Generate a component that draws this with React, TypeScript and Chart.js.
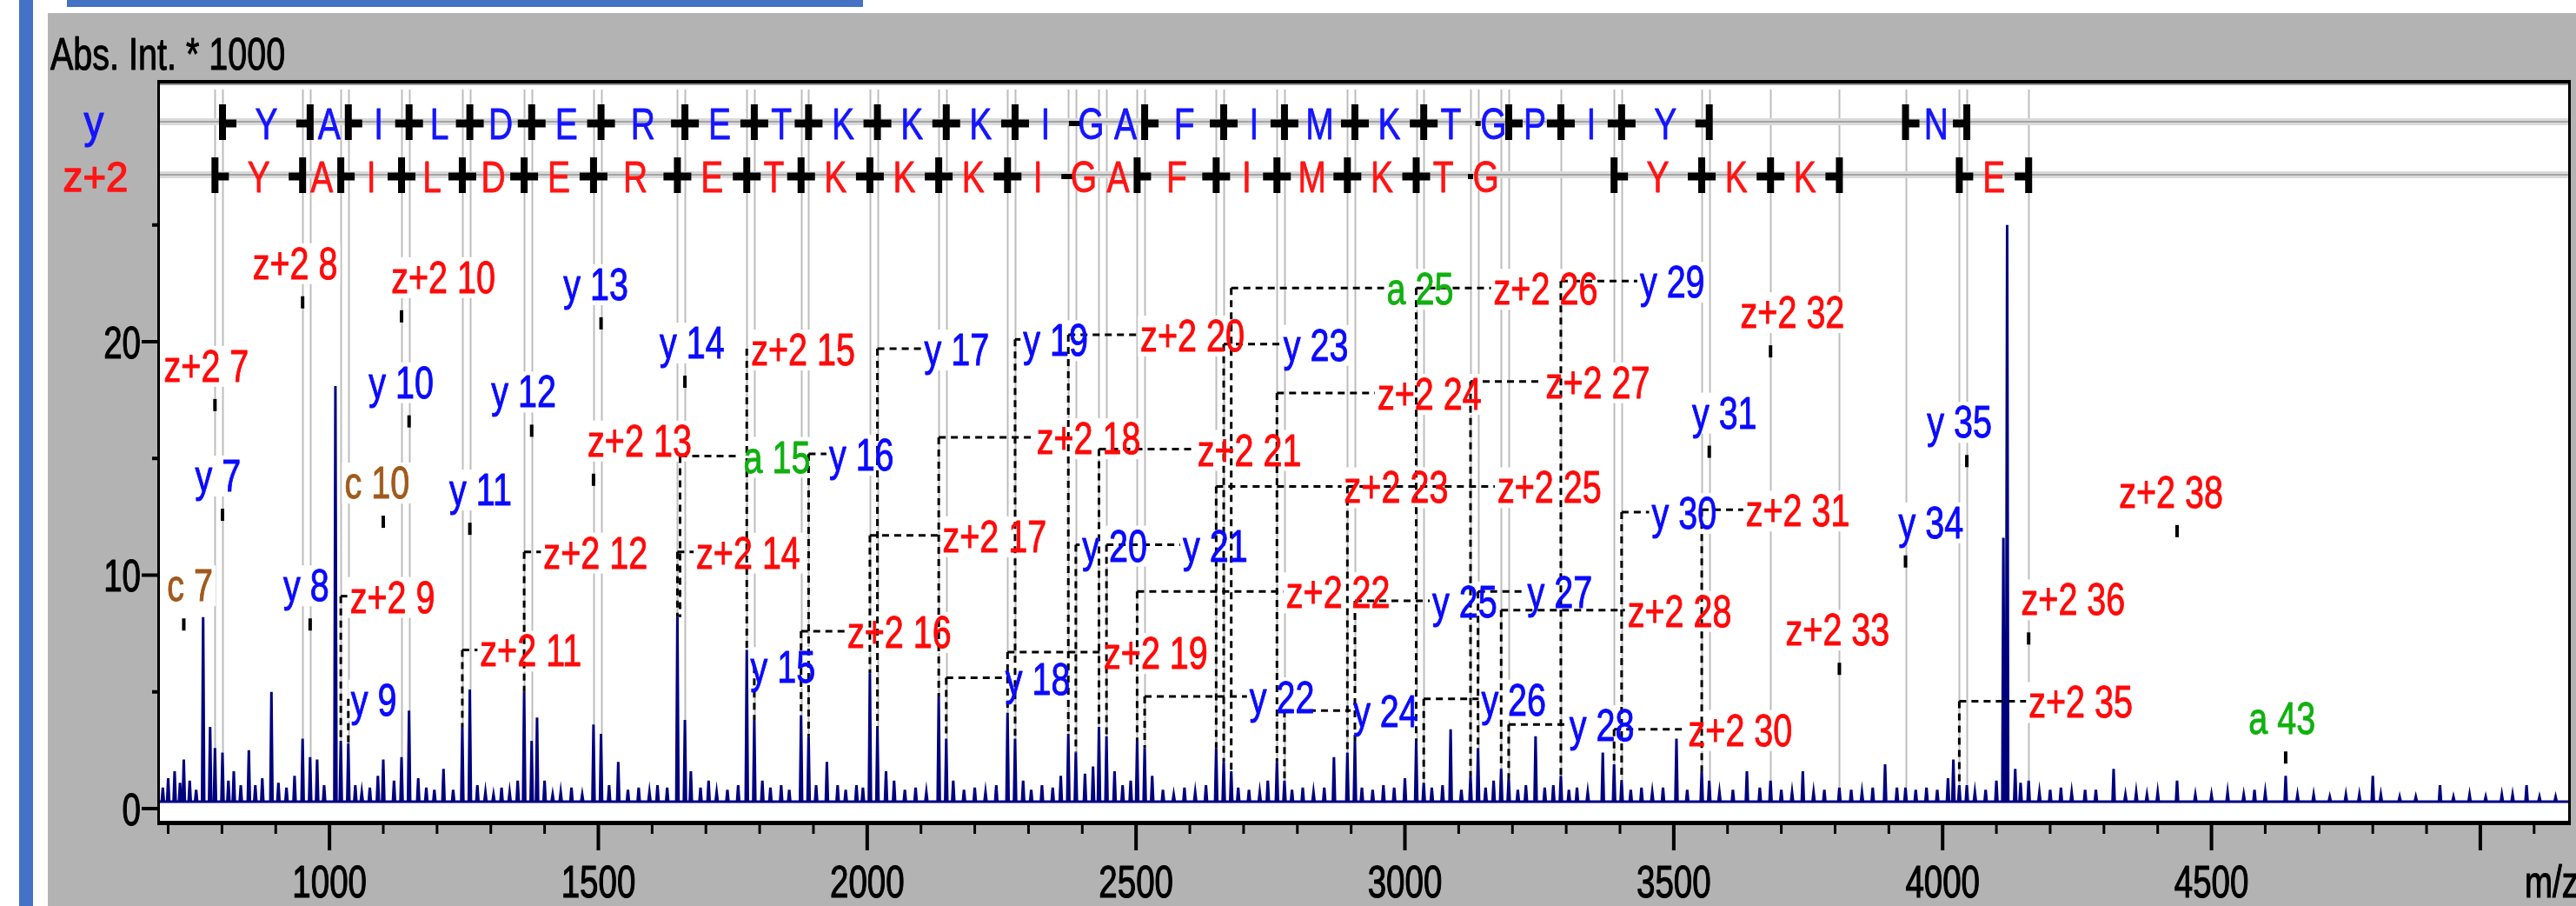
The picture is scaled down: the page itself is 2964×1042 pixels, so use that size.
import React, { useEffect, useRef } from 'react';
import { Chart, registerables } from 'chart.js';
Chart.register(...registerables);

// ---------- data ----------
const xTickLabels = ['1000', '1500', '2000', '2500', '3000', '3500', '4000', '4500'];
const yTickLabels = ['0', '10', '20'];

// [m/z, intensity (x1000)]
const spectrumPeaks: [number, number][] = [
  [690,0.9],[700,1.3],[712,1.6],[722,1.1],[729,2.1],[740,1.2],[752,0.8],[765,8.2],[778,3.5],[787,2.6],[801,2.4],[812,1.2],[822,1.6],[835,1.0],[850,2.5],[862,1.0],[875,1.3],[892,5.0],[905,1.1],[920,0.9],[935,1.4],[950,3.0],[964,2.2],[977,2.1],[990,1.0],
  [1011,18.1],[1021,2.9],[1035,2.8],[1048,1.0],[1060,0.7],[1075,0.9],[1090,1.4],[1100,2.1],[1120,1.2],[1134,2.2],[1148,4.2],[1165,1.3],[1180,0.9],[1195,0.8],[1212,1.7],[1230,0.8],[1247,3.5],[1261,5.1],[1275,1.0],[1290,0.7],[1305,0.6],[1320,0.9],[1335,0.7],[1350,1.2],[1362,5.0],[1376,2.9],[1386,3.9],[1400,1.2],[1415,0.6],[1430,0.7],[1450,0.9],[1470,0.6],[1491,3.6],
  [1505,3.2],[1520,1.0],[1537,2.0],[1555,0.8],[1575,0.9],[1595,0.7],[1610,1.0],[1628,0.9],[1647,8.2],[1661,3.8],[1672,1.6],[1690,0.9],[1705,1.2],[1720,0.7],[1740,0.8],[1760,1.0],[1776,6.8],[1790,3.8],[1805,1.2],[1820,0.9],[1840,1.0],[1855,0.8],[1877,4.0],[1891,3.1],[1905,1.0],[1925,2.0],[1945,1.0],[1960,0.8],[1980,1.0],[1992,0.9],
  [2005,5.8],[2019,3.5],[2035,1.6],[2050,1.2],[2070,0.8],[2090,0.9],[2110,0.7],[2133,4.8],[2147,3.0],[2160,1.2],[2180,0.8],[2200,0.9],[2220,0.7],[2240,1.0],[2261,4.1],[2275,3.0],[2290,1.2],[2305,0.8],[2325,1.0],[2345,0.9],[2360,1.4],[2374,3.2],[2388,2.4],[2405,1.5],[2420,1.8],[2431,3.5],[2445,3.1],[2460,1.6],[2475,1.0],[2490,1.2],
  [2502,2.9],[2516,2.6],[2530,1.4],[2550,0.8],[2570,0.6],[2590,0.9],[2610,0.7],[2630,1.0],[2649,2.6],[2663,2.0],[2677,1.6],[2690,0.9],[2710,0.8],[2730,0.7],[2745,1.2],[2762,2.0],[2776,1.2],[2790,0.8],[2810,0.9],[2830,0.7],[2850,0.9],[2868,2.2],[2893,2.4],[2907,2.9],[2920,0.9],[2940,0.8],[2960,1.0],[2980,0.9],
  [3000,1.3],[3021,2.9],[3035,1.1],[3050,0.9],[3070,1.0],[3085,3.4],[3105,0.8],[3122,1.4],[3136,2.6],[3150,0.9],[3165,1.2],[3179,1.7],[3193,1.3],[3210,0.8],[3225,1.0],[3243,3.1],[3260,0.9],[3276,1.0],[3290,1.4],[3305,0.8],[3320,0.9],[3340,0.7],[3368,2.4],[3389,1.9],[3403,1.2],[3420,0.8],[3440,0.9],[3460,0.7],[3480,0.9],
  [3505,3.0],[3525,0.8],[3552,1.6],[3566,1.2],[3585,0.7],[3610,0.8],[3636,1.6],[3660,0.9],[3680,1.2],[3700,0.8],[3720,0.7],[3740,1.6],[3760,0.7],[3780,0.8],[3808,0.9],[3830,0.8],[3850,0.7],[3870,0.9],[3893,1.9],[3915,0.9],[3931,0.9],[3950,0.8],[3970,0.9],[3990,0.8],
  [4010,1.3],[4020,2.1],[4031,1.0],[4045,1.0],[4060,0.7],[4080,0.8],[4100,1.2],[4113,11.6],[4120,25.0],[4135,1.7],[4145,1.1],[4160,1.2],[4180,0.7],[4200,0.8],[4220,0.9],[4240,0.7],[4265,0.8],[4285,0.8],[4318,1.7],[4340,0.6],[4360,0.7],[4380,0.6],[4400,0.7],[4436,1.2],[4470,0.6],
  [4500,0.6],[4530,0.7],[4560,0.6],[4580,0.8],[4600,0.7],[4638,1.4],[4660,0.6],[4690,0.6],[4720,0.5],[4750,0.6],[4775,0.6],[4800,1.4],[4815,0.6],[4850,0.5],[4880,0.5],[4925,1.0],[4950,0.5],[4980,0.6],
  [5010,0.5],[5040,0.6],[5060,0.6],[5086,1.0],[5110,0.5],[5140,0.5],
];
const baselineLevel = 0.3;

// sequence rows: cleavage m/z, marker kind, residues
const yRowMz = [801, 964, 1035, 1148, 1261, 1376, 1505, 1661, 1790, 1891, 2019, 2147, 2275, 2388, 2445, 2516, 2663, 2776, 2907, 3035, 3136, 3193, 3290, 3403, 3566];
const yRowMarks = ['R','L','R','B','B','B','B','B','B','B','B','B','B','D','N','R','B','B','B','B','P','R','B','B','L'];
const yRowSeq = 'YAILDERETKKKIGAFIMKTGPIY';
const yRow2Mz = [3931, 4045];
const yRow2Marks = ['R', 'L'];
const yRow2Seq = 'N';

const zRowMz = [787, 950, 1021, 1134, 1247, 1362, 1491, 1647, 1776, 1877, 2005, 2133, 2261, 2374, 2431, 2502, 2649, 2762, 2893, 3021, 3122, 3179];
const zRowMarks = ['R','L','R','B','B','B','B','B','B','B','B','B','B','D','N','R','B','B','B','B','P','N'];
const zRowSeq = 'YAILDERETKKKIGAFIMKTG';
const zRow2Mz = [3389, 3552, 3680, 3808];
const zRow2Marks = ['R', 'B', 'B', 'L'];
const zRow2Seq = 'YKK';
const zRow3Mz = [4031, 4160];
const zRow3Marks = ['R', 'L'];
const zRow3Seq = 'E';

// [text, ion type, peak m/z, label m/z (left), label intensity, dashed leader]
const annotations: [string, string, number, number, number, number][] = [
  ['c 7','c',729,698,9.6,0],
  ['z+2 7','z',787,692,19.0,0],
  ['y 7','y',801,750,14.3,0],
  ['y 8','y',964,914,9.6,0],
  ['z+2 8','z',950,857,23.4,0],
  ['z+2 9','z',1021,1038,9.1,1],
  ['y 9','y',1035,1040,4.7,1],
  ['c 10','c',1100,1028,14.0,0],
  ['y 10','y',1148,1073,18.3,0],
  ['z+2 10','z',1134,1115,22.8,0],
  ['y 11','y',1261,1223,13.7,0],
  ['z+2 11','z',1247,1280,6.8,1],
  ['y 12','y',1376,1301,17.9,0],
  ['z+2 12','z',1362,1398,11.0,1],
  ['y 13','y',1505,1435,22.5,0],
  ['z+2 13','z',1491,1480,15.8,0],
  ['y 14','y',1661,1614,20.0,0],
  ['z+2 14','z',1647,1682,11.0,1],
  ['a 15','a',1652,1770,15.1,1],
  ['z+2 15','z',1776,1784,19.7,1],
  ['y 15','y',1790,1783,6.1,1],
  ['y 16','y',1891,1929,15.2,1],
  ['z+2 16','z',1877,1963,7.6,1],
  ['y 17','y',2019,2106,19.7,1],
  ['z+2 17','z',2005,2140,11.7,1],
  ['y 18','y',2147,2257,5.6,1],
  ['z+2 18','z',2133,2315,15.9,1],
  ['y 19','y',2275,2290,20.1,1],
  ['z+2 19','z',2261,2440,6.7,1],
  ['y 20','y',2388,2400,11.3,1],
  ['z+2 20','z',2374,2508,20.3,1],
  ['y 21','y',2445,2587,11.3,1],
  ['z+2 21','z',2431,2614,15.4,1],
  ['y 22','y',2516,2711,4.8,1],
  ['z+2 22','z',2502,2779,9.3,1],
  ['y 23','y',2663,2774,19.9,1],
  ['z+2 23','z',2649,2887,13.8,1],
  ['a 25','a',2677,2966,22.3,1],
  ['z+2 24','z',2762,2949,17.8,1],
  ['y 24','y',2776,2904,4.2,1],
  ['y 25','y',2907,3051,8.9,1],
  ['z+2 25','z',2893,3172,13.8,1],
  ['z+2 26','z',3021,3165,22.3,1],
  ['y 26','y',3035,3142,4.7,1],
  ['z+2 27','z',3122,3262,18.3,1],
  ['y 27','y',3136,3228,9.3,1],
  ['z+2 28','z',3179,3414,8.5,1],
  ['y 28','y',3193,3306,3.6,1],
  ['y 29','y',3290,3437,22.6,1],
  ['y 30','y',3403,3459,12.7,1],
  ['z+2 30','z',3389,3527,3.4,1],
  ['y 31','y',3566,3534,17.0,0],
  ['z+2 31','z',3552,3634,12.8,1],
  ['z+2 32','z',3680,3624,21.3,0],
  ['z+2 33','z',3808,3708,7.7,0],
  ['y 34','y',3931,3918,12.3,0],
  ['y 35','y',4045,3971,16.6,0],
  ['z+2 35','z',4031,4160,4.6,1],
  ['z+2 36','z',4160,4146,9.0,0],
  ['z+2 38','z',4436,4328,13.6,0],
  ['a 43','a',4638,4569,3.9,0],
];

const ionColors: Record<string, string> = { y: '#0a0aff', z: '#ff0a0a', c: '#a05a1c', a: '#10b010' };

// ---------- helpers ----------
const FONT = '"Liberation Sans", Arial, Helvetica, sans-serif';

function txt(ctx: CanvasRenderingContext2D, s: string, x: number, y: number, color: string, size: number, sx: number, align: 'left' | 'center' | 'right', weight = 1.0) {
  ctx.save();
  ctx.font = `${size}px ${FONT}`;
  ctx.fillStyle = color;
  ctx.strokeStyle = color;
  ctx.textBaseline = 'alphabetic';
  ctx.textAlign = 'left';
  const w = ctx.measureText(s).width * sx;
  let left = x;
  if (align === 'center') left = x - w / 2;
  else if (align === 'right') left = x - w;
  ctx.translate(left, y);
  ctx.scale(sx, 1);
  ctx.fillText(s, 0, 0);
  if (weight > 0) {
    ctx.lineWidth = weight;
    ctx.lineJoin = 'round';
    ctx.strokeText(s, 0, 0);
  }
  ctx.restore();
  return w;
}
function textWidth(ctx: CanvasRenderingContext2D, s: string, size: number, sx: number) {
  ctx.save();
  ctx.font = `${size}px ${FONT}`;
  const w = ctx.measureText(s).width * sx;
  ctx.restore();
  return w;
}
function peakTop(m: number) {
  let best = -1, bd = 7;
  for (let i = 0; i < spectrumPeaks.length; i++) {
    const d = Math.abs(spectrumPeaks[i][0] - m);
    if (d < bd) { bd = d; best = i; }
  }
  return best >= 0 ? spectrumPeaks[best][1] : 0.6;
}

const LABEL_SIZE = 52, LABEL_SX = 0.76;

function drawRow(ctx: CanvasRenderingContext2D, px: (v: number) => number, mzs: number[], marks: string[], seq: string, cy: number, barTop: number, barBot: number, baseline: number, color: string) {
  ctx.fillStyle = '#000';
  for (let i = 0; i < mzs.length; i++) {
    const x = px(mzs[i]);
    const mk = marks[i];
    if (mk === 'R' || mk === 'L' || mk === 'B') {
      ctx.fillRect(x - 4, barTop, 8, barBot - barTop);
      if (mk === 'R' || mk === 'B') ctx.fillRect(x, cy - 4.5, 16, 9);
      if (mk === 'L' || mk === 'B') ctx.fillRect(x - 16, cy - 4.5, 16, 9);
    } else if (mk === 'D') {
      ctx.fillRect(x - 8, cy - 3, 16, 6);
    } else if (mk === 'P') {
      ctx.fillRect(x - 3, cy - 3, 6, 6);
    }
  }
  for (let i = 0; i < seq.length; i++) {
    const x = (px(mzs[i]) + px(mzs[i + 1])) / 2;
    txt(ctx, seq[i], x, baseline, color, 50, 0.78, 'center', 0.8);
  }
}

const decor = {
  id: 'spectrumDecor',
  beforeDraw(chart: any) {
    const ctx: CanvasRenderingContext2D = chart.ctx;
    const W = chart.width, H = chart.height, ca = chart.chartArea;
    ctx.save();
    ctx.fillStyle = '#ffffff';
    ctx.fillRect(0, 0, W, H);
    ctx.fillStyle = '#4472c4';
    ctx.fillRect(22, 0, 16, H);
    ctx.fillRect(77, 0, 916, 8);
    ctx.fillStyle = '#b3b3b3';
    ctx.fillRect(55, 15, W - 55, H - 15);
    ctx.fillStyle = '#ffffff';
    ctx.fillRect(ca.left, ca.top, ca.right - ca.left, ca.bottom - ca.top);
    ctx.restore();
  },
  beforeDatasetsDraw(chart: any) {
    const ctx: CanvasRenderingContext2D = chart.ctx;
    const ca = chart.chartArea;
    const px = (v: number) => chart.scales.x.getPixelForValue(v);
    const py = (v: number) => chart.scales.y.getPixelForValue(v);
    ctx.save();
    ctx.beginPath();
    ctx.rect(ca.left, ca.top, ca.right - ca.left, ca.bottom - ca.top);
    ctx.clip();
    // gray cleavage lines
    ctx.strokeStyle = '#bdbdbd';
    ctx.lineWidth = 2;
    const all = [...yRowMz, ...yRow2Mz, ...zRowMz, ...zRow2Mz, ...zRow3Mz];
    for (const m of all) {
      const x = Math.round(px(m)) + 0.5;
      ctx.beginPath();
      ctx.moveTo(x, ca.top + 8);
      ctx.lineTo(x, py(peakTop(m)));
      ctx.stroke();
    }
    // row bands
    ctx.fillStyle = '#dadada';
    ctx.fillRect(ca.left, 136, ca.right - ca.left, 8);
    ctx.fillRect(ca.left, 197, ca.right - ca.left, 8);
    ctx.fillStyle = '#a4a4a4';
    ctx.fillRect(ca.left, 139, ca.right - ca.left, 2);
    ctx.fillRect(ca.left, 200, ca.right - ca.left, 2);
    // label backgrounds hide the gray lines
    ctx.fillStyle = '#ffffff';
    for (const a of annotations) {
      const left = px(a[3]);
      const base = py(a[4]) + 19;
      const w = textWidth(ctx, a[0], LABEL_SIZE, LABEL_SX);
      ctx.fillRect(left - 3, base - 41, w + 6, 47);
    }
    ctx.restore();
  },
  afterDatasetsDraw(chart: any) {
    const ctx: CanvasRenderingContext2D = chart.ctx;
    const ca = chart.chartArea;
    const px = (v: number) => chart.scales.x.getPixelForValue(v);
    const py = (v: number) => chart.scales.y.getPixelForValue(v);
    ctx.save();
    // dashed leaders
    ctx.strokeStyle = '#000';
    ctx.lineWidth = 3;
    ctx.setLineDash([8, 6]);
    for (const a of annotations) {
      if (!a[5]) continue;
      const xp = px(a[2]);
      const yl = py(a[4]);
      const yb = py(peakTop(a[2]));
      ctx.beginPath();
      ctx.moveTo(xp, yl);
      ctx.lineTo(xp, yb);
      ctx.stroke();
      const left = px(a[3]);
      if (left - 3 > xp + 2) {
        ctx.beginPath();
        ctx.moveTo(xp, yl);
        ctx.lineTo(left - 3, yl);
        ctx.stroke();
      }
    }
    ctx.setLineDash([]);
    // labels and markers
    for (const a of annotations) {
      const left = px(a[3]);
      const base = py(a[4]) + 19;
      txt(ctx, a[0], left, base, ionColors[a[1]], LABEL_SIZE, LABEL_SX, 'left', 1.0);
      if (!a[5]) {
        ctx.fillStyle = '#000';
        ctx.fillRect(px(a[2]) - 2, base + 20, 4, 14);
      }
    }
    // sequence rows
    drawRow(ctx, px, yRowMz, yRowMarks, yRowSeq, 142, 120, 161, 160, '#1414ff');
    drawRow(ctx, px, yRow2Mz, yRow2Marks, yRow2Seq, 142, 120, 161, 160, '#1414ff');
    drawRow(ctx, px, zRowMz, zRowMarks, zRowSeq, 203, 181, 222, 221, '#ff1414');
    drawRow(ctx, px, zRow2Mz, zRow2Marks, zRow2Seq, 203, 181, 222, 221, '#ff1414');
    drawRow(ctx, px, zRow3Mz, zRow3Marks, zRow3Seq, 203, 181, 222, 221, '#ff1414');
    txt(ctx, 'y', 108, 158, '#1414ff', 54, 0.85, 'center', 1.2);
    txt(ctx, 'z+2', 110, 220, '#ff1414', 48, 0.95, 'center', 1.4);

    // frame
    const w = ca.right - ca.left, h = ca.bottom - ca.top;
    ctx.fillStyle = '#000';
    ctx.fillRect(ca.left - 2, ca.top - 3, w + 4, 4);
    ctx.fillStyle = '#9a9a9a';
    ctx.fillRect(ca.left + 1, ca.top + 1, w - 2, 2);
    ctx.fillStyle = '#000';
    ctx.fillRect(ca.left - 2, ca.top, 3, h);
    ctx.fillRect(ca.right - 1, ca.top, 3, h);
    ctx.fillRect(ca.left - 2, ca.bottom - 1, w + 4, 5);

    // x ticks
    for (let m = 700; m <= 5100; m += 100) {
      const x = px(m);
      if (m % 500 === 0) ctx.fillRect(x - 2, ca.bottom + 2, 4, 31);
      else ctx.fillRect(x - 1.5, ca.bottom + 2, 3, 12);
    }
    for (const t of xTickLabels) {
      txt(ctx, t, px(Number(t)), 1032, '#000', 52, 0.74, 'center', 1.2);
    }
    txt(ctx, 'm/z', 2905, 1032, '#000', 52, 0.74, 'left', 1.2);

    // y ticks
    for (let v = 0; v <= 25; v += 5) {
      const y = py(v);
      if (v % 10 === 0) ctx.fillRect(ca.left - 20, y - 2, 20, 4);
      else ctx.fillRect(ca.left - 8, y - 2, 8, 4);
    }
    for (const t of yTickLabels) {
      txt(ctx, t, ca.left - 21, py(Number(t)) + 19, '#000', 52, 0.74, 'right', 1.2);
    }
    txt(ctx, 'Abs. Int. * 1000', 58, 80, '#000', 52, 0.76, 'left', 1.0);
    ctx.restore();
  },
};

function buildLine() {
  const pts: { x: number; y: number }[] = [{ x: 683, y: baselineLevel }];
  for (const [m, h] of spectrumPeaks) {
    pts.push({ x: m - 2, y: baselineLevel });
    pts.push({ x: m, y: h });
    pts.push({ x: m + 2, y: baselineLevel });
  }
  pts.push({ x: 5165, y: baselineLevel });
  return pts;
}

export default function App() {
  const ref = useRef<HTMLCanvasElement>(null);
  useEffect(() => {
    document.body.style.margin = '0';
    const chart = new Chart(ref.current as HTMLCanvasElement, {
      type: 'line',
      data: {
        datasets: [
          {
            data: buildLine(),
            borderColor: '#00007f',
            borderWidth: 3,
            pointRadius: 0,
            tension: 0,
            fill: false,
          },
        ],
      },
      options: {
        animation: false,
        responsive: false,
        devicePixelRatio: 1,
        events: [],
        layout: { padding: { left: 183, right: 8, top: 95, bottom: 97 } },
        scales: {
          x: { type: 'linear', min: 683, max: 5165, display: false },
          y: { type: 'linear', min: -0.56, max: 31.1, display: false },
        },
        plugins: { legend: { display: false }, tooltip: { enabled: false } },
      },
      plugins: [decor],
    } as any);
    return () => chart.destroy();
  }, []);
  return (
    <div style={{ position: 'absolute', left: 0, top: 0, width: 2964, height: 1042 }}>
      <canvas ref={ref} width={2964} height={1042} style={{ width: 2964, height: 1042, display: 'block' }} />
    </div>
  );
}
